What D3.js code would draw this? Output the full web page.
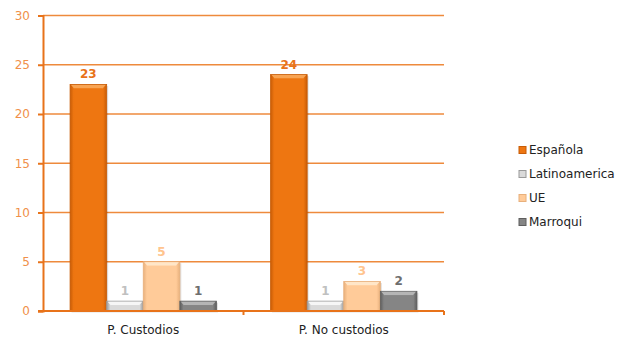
<!DOCTYPE html>
<html><head><meta charset="utf-8">
<script src="https://cdn.jsdelivr.net/npm/d3@7"></script>
<style>body{margin:0;background:#fff}svg{display:block}</style>
</head><body>
<script>
const categories = ["P. Custodios", "P. No custodios"];
const seriesNames = ["Española", "Latinoamerica", "UE", "Marroqui"];
const espanola = [23, 24];
const latinoamerica = [1, 1];
const ue = [5, 3];
const marroqui = [1, 2];
const yTicks = [0, 5, 10, 15, 20, 25, 30];

const seriesValues = [espanola, latinoamerica, ue, marroqui];
const fills = ["#EE7611", "#DADADA", "#FFCB99", "#858585"];
const darks = ["#C85C06", "#9A9A9A", "#E8B07C", "#5E5E5E"];
const lights = ["#F8A453", "#F6F6F6", "#FFE6C8", "#B5B5B5"];
const labelColors = ["#E8731A", "#C0C0C0", "#FFC48E", "#6E6E6E"];

const W = 623, H = 342;
const svg = d3.select("body").append("svg").attr("width", W).attr("height", H);
const m = {left: 43, right: 444, top: 15.5, bottom: 311};

const x0 = d3.scaleBand().domain(categories).range([m.left, m.right]).paddingInner(0).paddingOuter(0);
const x1 = d3.scaleBand().domain(seriesNames).range([0, x0.bandwidth()]).paddingInner(0).paddingOuter(0.74);
const y = d3.scaleLinear().domain([0, 30]).range([m.bottom, m.top]);

const defs = svg.append("defs");
seriesNames.forEach((s, i) => {
  const g = defs.append("linearGradient").attr("id", "g" + i).attr("x1", "0").attr("x2", "1").attr("y1", "0").attr("y2", "0");
  g.append("stop").attr("offset", "0").attr("stop-color", darks[i]);
  g.append("stop").attr("offset", "0.1").attr("stop-color", fills[i]);
  g.append("stop").attr("offset", "0.9").attr("stop-color", fills[i]);
  g.append("stop").attr("offset", "1").attr("stop-color", darks[i]);
});

// gridlines
svg.append("g").selectAll("line").data(yTicks.filter(d => d > 0)).join("line")
  .attr("x1", m.left).attr("x2", m.right)
  .attr("y1", d => y(d)).attr("y2", d => y(d))
  .attr("stroke", "#EE8A3C").attr("stroke-width", 1.5);

// y axis
const yAxis = d3.axisLeft(y).tickValues(yTicks).tickSize(5).tickPadding(8);
const ya = svg.append("g").attr("transform", `translate(${m.left},0)`).call(yAxis);
ya.select(".domain").attr("stroke", "#E8731A").attr("stroke-width", 2);
ya.selectAll(".tick line").attr("stroke", "#E8731A").attr("stroke-width", 2);
ya.selectAll(".tick text").attr("fill", "#F0904A").style("font-family", "DejaVu Sans, Verdana, sans-serif").style("font-size", "12px");

// bars
const groups = svg.append("g").selectAll("g").data(categories).join("g")
  .attr("transform", d => `translate(${x0(d)},0)`);

groups.each(function(cat, ci) {
  const g = d3.select(this);
  seriesNames.forEach((s, si) => {
    const v = seriesValues[si][ci];
    const bx = x1(s), bw = x1.bandwidth();
    const top = y(v), h = y(0) - y(v);
    g.append("rect").attr("x", bx + 1.5).attr("y", top + 1.5).attr("width", bw).attr("height", h)
      .attr("fill", "#000").attr("opacity", 0.12);
    g.append("rect").attr("x", bx).attr("y", top).attr("width", bw).attr("height", h)
      .attr("fill", `url(#g${si})`).attr("stroke", darks[si]).attr("stroke-width", 0.8);
    g.append("path")
      .attr("d", `M${bx+1},${top+0.5} L${bx+bw-1},${top+0.5} L${bx+bw-4},${top+4} L${bx+4},${top+4} Z`)
      .attr("fill", lights[si]);
    g.append("rect").attr("x", bx + 4).attr("y", top + 4).attr("width", Math.max(0, bw - 8)).attr("height", Math.max(0, h - 5))
      .attr("fill", fills[si]);
    g.append("text").attr("x", bx + bw / 2).attr("y", top - 6)
      .attr("text-anchor", "middle").attr("fill", labelColors[si])
      .style("font-family", "DejaVu Sans, Verdana, sans-serif").style("font-size", "12px").style("font-weight", "bold")
      .text(v);
  });
});

// x axis
const xAxis = d3.axisBottom(x0).tickSize(0).tickPadding(14);
const xa = svg.append("g").attr("transform", `translate(0,${m.bottom})`).call(xAxis);
xa.select(".domain").attr("stroke", "#E8731A").attr("stroke-width", 2).attr("d", `M${m.left - 5},0H${m.right}`);
xa.selectAll(".tick text").attr("fill", "#222").style("font-family", "DejaVu Sans, Verdana, sans-serif").style("font-size", "12px");
svg.append("g").selectAll("line").data(x0.domain().slice(1).map(d => x0(d)).concat([m.right])).join("line")
  .attr("x1", d => d).attr("x2", d => d).attr("y1", m.bottom).attr("y2", m.bottom + 4)
  .attr("stroke", "#E8731A").attr("stroke-width", 2);

// legend
const leg = svg.append("g").attr("transform", "translate(519,150)");
seriesNames.forEach((s, i) => {
  const r = leg.append("g").attr("transform", `translate(0,${i * 24})`);
  r.append("rect").attr("x", 0).attr("y", -3.5).attr("width", 7).attr("height", 7).attr("fill", fills[i]).attr("stroke", darks[i]).attr("stroke-width", 1);
  r.append("text").attr("x", 10).attr("y", 0).attr("dy", "0.35em").attr("fill", "#222")
    .style("font-family", "DejaVu Sans, Verdana, sans-serif").style("font-size", "12px").text(s);
});
</script>
</body></html>
